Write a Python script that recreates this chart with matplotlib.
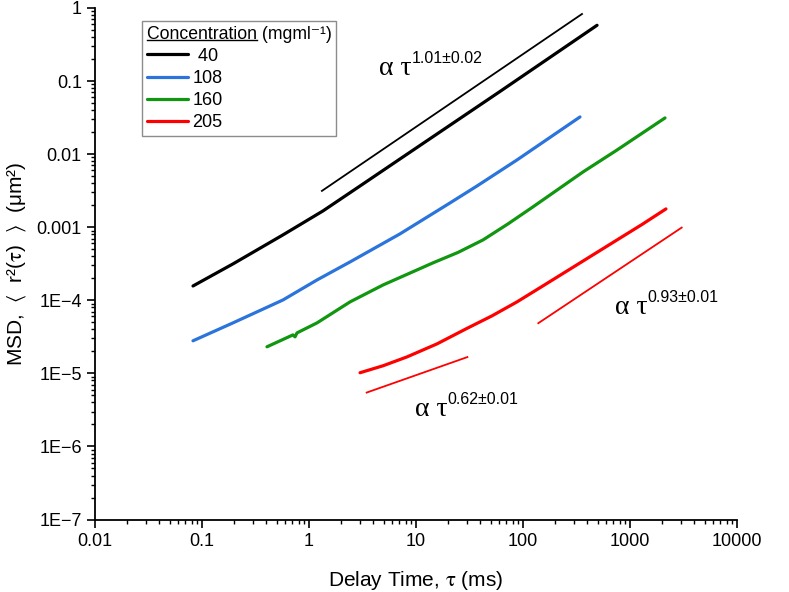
import numpy as np
import matplotlib
matplotlib.use('Agg')
import matplotlib.pyplot as plt
from matplotlib.lines import Line2D
from matplotlib.transforms import IdentityTransform

plt.rcParams['font.family'] = ['Liberation Sans', 'DejaVu Sans']
plt.rcParams['mathtext.fontset'] = 'stix'

# ---------- data ----------
tau_40 = [0.0824, 0.195, 0.571, 1.35, 3.20, 7.56, 61.0, 492]
msd_40 = [1.57e-4, 3.15e-4, 7.85e-4, 1.67e-3, 3.91e-3, 9.16e-3, 7.21e-2, 0.580]

tau_108 = [0.0824, 0.195, 0.571, 1.19, 2.42, 7.08, 20.8, 37.2, 87.9, 341]
msd_108 = [2.79e-5, 4.91e-5, 1.01e-4, 1.90e-4, 3.35e-4, 8.10e-4, 2.15e-3, 3.67e-3,
           8.33e-3, 3.23e-2]

tau_160 = [0.405, 0.708, 0.740, 0.773, 1.19, 2.42, 4.92, 14.4, 24.7, 42.3, 72.4, 124, 364,
           757, 2124]
msd_160 = [2.31e-5, 3.36e-5, 3.16e-5, 3.58e-5, 4.91e-5, 9.51e-5, 1.62e-4, 3.25e-4, 4.52e-4,
           6.70e-4, 1.11e-3, 1.90e-3, 5.71e-3, 1.14e-2, 3.13e-2]

tau_205 = [3.00, 4.92, 8.24, 15.7, 30.0, 51.3, 87.9, 151, 258, 442, 757, 1295, 2168]
msd_205 = [1.02e-5, 1.27e-5, 1.68e-5, 2.53e-5, 4.13e-5, 6.12e-5, 9.51e-5, 1.55e-4, 2.52e-4,
           4.11e-4, 6.70e-4, 1.09e-3, 1.78e-3]

# power law guide lines
fit_40_tau = [1.32, 356]
fit_40_msd = [3.14e-3, 0.828]
fit_short_tau = [3.46, 30.2]
fit_short_msd = [5.46e-6, 1.67e-5]
fit_long_tau = [139, 3041]
fit_long_msd = [4.86e-5, 9.88e-4]

conc_labels = [' 40', '108', '160', '205']
colors = ['black', '#2a74dc', '#10960f', '#ff0000']

xticks = [0.01, 0.1, 1, 10, 100, 1000, 10000]
xticklabels = ['0.01', '0.1', '1', '10', '100', '1000', '10000']
yticks = [1e-7, 1e-6, 1e-5, 1e-4, 1e-3, 1e-2, 1e-1, 1]
yticklabels = ['1E\u22127', '1E\u22126', '1E\u22125', '1E\u22124', '0.001', '0.01', '0.1', '1']

# ---------- plot ----------
fig = plt.figure(figsize=(7.89, 5.92), dpi=100)
ax = fig.add_axes([95 / 789, 1 - 519.5 / 592, 642 / 789, 511.5 / 592])

series = [(tau_40, msd_40), (tau_108, msd_108), (tau_160, msd_160), (tau_205, msd_205)]
for (t, m), lab, c in zip(series, conc_labels, colors):
    ax.plot(t, m, color=c, lw=2.3, label=lab, solid_capstyle='round', solid_joinstyle='round')

ax.plot(fit_40_tau, fit_40_msd, color='black', lw=1.3)
ax.plot(fit_short_tau, fit_short_msd, color='#ff0000', lw=1.3)
ax.plot(fit_long_tau, fit_long_msd, color='#ff0000', lw=1.3)

ax.set_xscale('log')
ax.set_yscale('log')
ax.set_xlim(0.01, 10000)
ax.set_ylim(1e-7, 1)
ax.set_xticks(xticks, xticklabels)
ax.set_yticks(yticks, yticklabels)
ax.tick_params(which='major', direction='out', length=6, width=1.2, labelsize=13)
ax.tick_params(which='minor', direction='out', length=3, width=1.0)
for s in ['top', 'right']:
    ax.spines[s].set_visible(False)
for s in ['left', 'bottom']:
    ax.spines[s].set_linewidth(1.3)

ax.set_xlabel('Delay Time, $\\mathrm{\\tau}$ (ms)', fontsize=15, labelpad=14)
ax.set_ylabel('MSD,  $\\langle$  r\u00b2($\\mathrm{\\tau}$)  $\\rangle$  (\u03bcm\u00b2)', fontsize=15, labelpad=6)

# exponent annotations
notes = [(4.51, 0.121, '1.01\u00b10.02'), (9.79, 2.62e-6, '0.62\u00b10.01'), (724, 6.52e-5, '0.93\u00b10.01')]
for x, y, exp in notes:
    t = ax.text(x, y, '\u03b1 \u03c4', family='Liberation Serif', fontsize=20, ha='left', va='baseline')
    ax.annotate(exp, xy=(1.0, 0.6), xycoords=t, fontsize=11.5, ha='left', va='bottom')

leg = ax.legend(title='Concentration (mgml\u207b\u00b9)', loc='upper left',
                bbox_to_anchor=(0.0732, 0.9746), borderaxespad=0, fontsize=13,
                title_fontsize=12.7, fancybox=False, framealpha=1, edgecolor='#8c8c8c',
                handlelength=2.3, handletextpad=0.25, labelspacing=0.29, borderpad=0.25)
leg._legend_box.align = 'left'
leg.get_frame().set_linewidth(1.0)

# underline "Concentration" in the legend title
fig.canvas.draw()
r = fig.canvas.get_renderer()
title = leg.get_title()
bb = title.get_window_extent(r)
tmp = fig.text(0, 0, 'Concentration', fontsize=12.7)
w = tmp.get_window_extent(r).width
tmp.remove()
fig.add_artist(Line2D([bb.x0, bb.x0 + w], [bb.y0 + 2.5, bb.y0 + 2.5], color='black', lw=1.0,
                      transform=IdentityTransform()))

fig.savefig('out.png', dpi=100)
